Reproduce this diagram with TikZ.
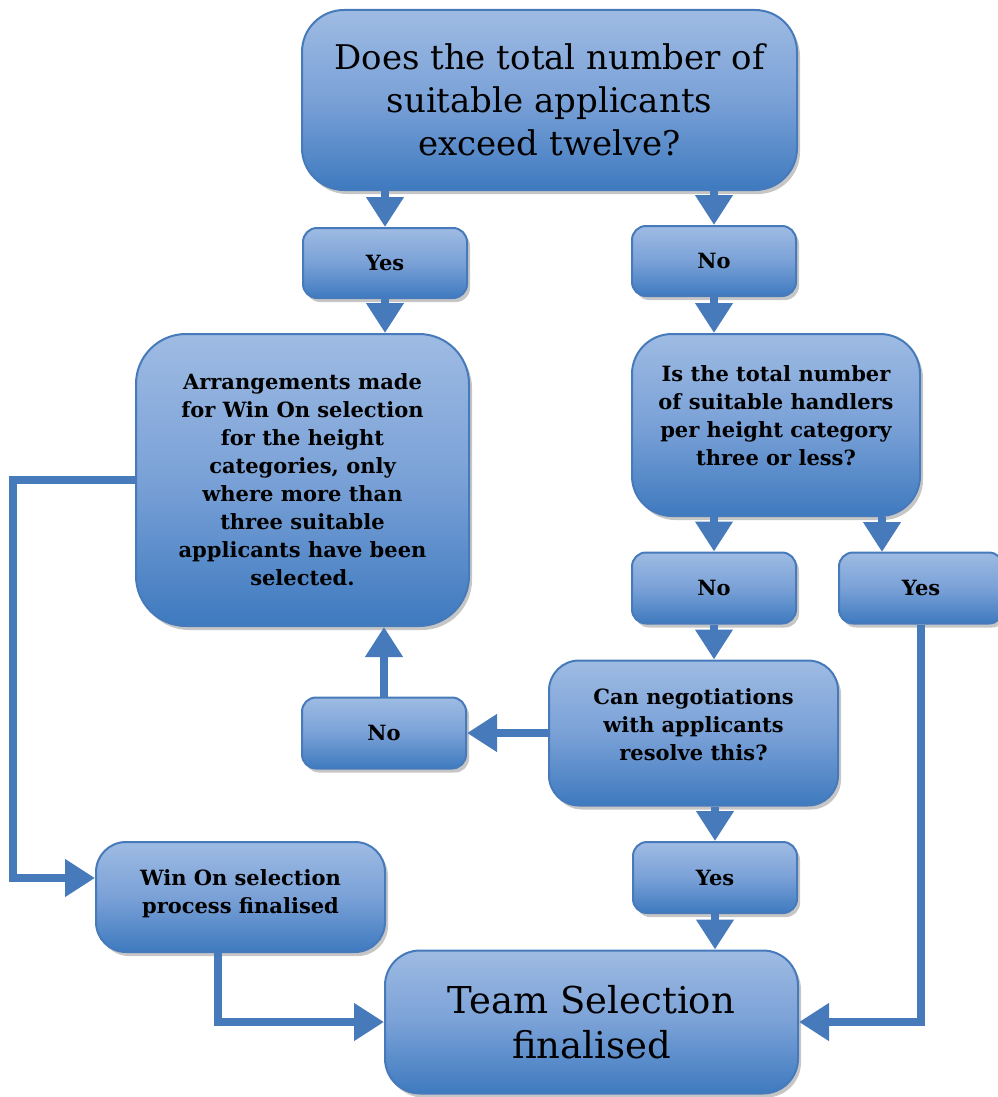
\documentclass[tikz,border=0pt]{standalone}
\usepackage{fontspec}
\setmainfont{DejaVu Serif}
\usetikzlibrary{arrows.meta,shadows,calc}
\definecolor{bord}{RGB}{70,122,186}
\definecolor{gtop}{RGB}{158,187,227}
\definecolor{gmid}{RGB}{122,161,215}
\definecolor{gbot}{RGB}{62,122,191}
\begin{document}
\begin{tikzpicture}[x=1pt,y=-1pt,
  box/.style={draw=bord, line width=2pt, rounded corners=#1,
    top color=gtop, bottom color=gbot, middle color=gmid,
    align=center, inner sep=0pt, text=black,
    drop shadow={shadow xshift=3pt, shadow yshift=-4pt, opacity=0.45}},
  small/.style={font=\bfseries\fontsize{21}{28}\selectfont},
  arr/.style={draw=bord, line width=8pt, -{Triangle[width=36pt,length=30pt]}}]
\useasboundingbox (0,0) rectangle (997,1097);
% boxes
\node[box=42pt, minimum width=495pt, minimum height=180pt,
  font=\fontsize{34}{43}\selectfont] (top) at (549.5,100)
  {Does the total number of\\ suitable applicants\\ exceed twelve?};
\node[box=14pt, small, minimum width=164pt, minimum height=70pt] (yes1) at (385,263) {Yes};
\node[box=14pt, small, minimum width=164pt, minimum height=70pt] (no1) at (714,261) {No};
\node[box=50pt, small, minimum width=333pt, minimum height=292pt] (arrg) at (302.5,480)
  {Arrangements made\\ for Win On selection\\ for the height\\ categories, only\\ where more than\\ three suitable\\ applicants have been\\ selected.};
\node[box=40pt, small, minimum width=288pt, minimum height=182pt] (isb) at (776,425)
  {Is the total number\\ of suitable handlers\\ per height category\\ three or less?\\[-10pt]};
\node[box=14pt, small, minimum width=164pt, minimum height=71pt] (no2) at (714,588) {No};
\node[box=14pt, small, minimum width=164pt, minimum height=71pt] (yes2) at (921,588) {Yes};
\node[box=30pt, small, minimum width=289pt, minimum height=145pt] (can) at (693.5,733)
  {Can negotiations\\ with applicants\\ resolve this?\\[-11pt]};
\node[box=14pt, small, minimum width=164pt, minimum height=71pt] (no3) at (384,733) {No};
\node[box=14pt, small, minimum width=164pt, minimum height=71pt] (yes3) at (715,877.5) {Yes};
\node[box=30pt, small, minimum width=289pt, minimum height=110pt] (win) at (240.5,897)
  {Win On selection\\ process finalised\\[-17pt]};
\node[box=35pt, minimum width=413pt, minimum height=143pt,
  font=\fontsize{37}{45}\selectfont] (team) at (591.5,1022)
  {Team Selection\\ finalised};
% helper coordinates
\coordinate (L) at (13,878);
\coordinate (W) at (218,1022);
\coordinate (Y2) at (882,552);
% connectors
\draw[arr] (top.south -| yes1.north) -- (yes1.north);
\draw[arr] (top.south -| no1.north) -- (no1.north);
\draw[arr] (yes1.south) -- (yes1.south |- arrg.north);
\draw[arr] (no1.south) -- (no1.south |- isb.north);
\draw[arr] (isb.south -| no2.north) -- (no2.north);
\draw[arr] (isb.south -| Y2) -- (Y2);
\draw[arr] (no2.south) -- (no2.south |- can.north);
\draw[arr] (can.west) -- (no3.east);
\draw[arr] (no3.north) -- (no3.north |- arrg.south);
\draw[arr] (can.south -| yes3.north) -- (yes3.north);
\draw[arr] (yes3.south) -- (yes3.south |- team.north);
\draw[arr] (arrg.west) -| (L) -- (L -| win.west);
\draw[arr] (W |- win.south) |- (team.west);
\draw[arr] (yes2.south) |- (team.east);
\end{tikzpicture}
\end{document}
